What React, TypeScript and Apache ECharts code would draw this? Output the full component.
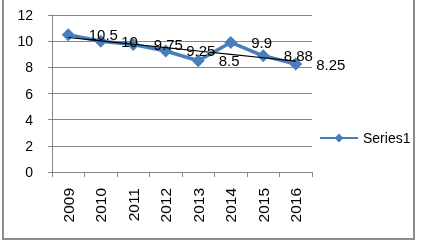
import React, { useEffect, useRef } from "react";
import * as echarts from "echarts";

const categories = ["2009", "2010", "2011", "2012", "2013", "2014", "2015", "2016"];
const series1 = [10.5, 10, 9.75, 9.25, 8.5, 9.9, 8.88, 8.25];
const seriesName = "Series1";

function linearTrend(values: number[]): number[] {
  const n = values.length;
  const xs = values.map((_, i) => i + 1);
  const mx = xs.reduce((a, b) => a + b, 0) / n;
  const my = values.reduce((a, b) => a + b, 0) / n;
  let sxy = 0;
  let sxx = 0;
  for (let i = 0; i < n; i++) {
    sxy += (xs[i] - mx) * (values[i] - my);
    sxx += (xs[i] - mx) * (xs[i] - mx);
  }
  const slope = sxy / sxx;
  return xs.map((x) => my + slope * (x - mx));
}

export default function App() {
  const ref = useRef<HTMLDivElement>(null);
  useEffect(() => {
    if (!ref.current) return;
    const chart = echarts.init(ref.current, undefined, { renderer: "svg" });
    const font = "'Liberation Sans', Arial, sans-serif";
    chart.setOption({
      animation: false,
      textStyle: { fontFamily: font },
      graphic: [
        { type: "rect", z: 100, silent: true, shape: { x: 3, y: -5, width: 411, height: 244 }, style: { fill: "none", stroke: "#8c8c8c", lineWidth: 2 } },
      ],
      grid: { left: 52, right: 110, top: 15, bottom: 68 },
      legend: {
        left: 314,
        top: 126,
        itemWidth: 38,
        itemHeight: 11,
        itemGap: 4,
        data: [{ name: seriesName }],
        textStyle: { fontSize: 14, color: "#000", fontFamily: font },
      },
      xAxis: {
        type: "category",
        data: categories,
        boundaryGap: true,
        axisLine: { show: true, lineStyle: { color: "#868686", width: 1 } },
        axisTick: { show: true, alignWithLabel: false, length: 5, lineStyle: { color: "#868686" } },
        axisLabel: { rotate: 90, fontSize: 15.5, color: "#000", margin: 16, fontFamily: font },
      },
      yAxis: {
        type: "value",
        min: 0,
        max: 12,
        interval: 2,
        axisLine: { show: true, lineStyle: { color: "#868686", width: 1 } },
        axisTick: { show: true, length: 4, inside: false, lineStyle: { color: "#868686" } },
        axisLabel: { fontSize: 14, color: "#000", margin: 19, fontFamily: font },
        splitLine: { show: true, lineStyle: { color: "#868686", width: 1 } },
      },
      series: [
        {
          name: seriesName,
          type: "line",
          data: series1,
          symbol: "diamond",
          symbolSize: 13,
          lineStyle: { color: "#4a7ebb", width: 3.5 },
          itemStyle: { color: "#4a7ebb" },
          label: {
            show: true,
            position: "right",
            distance: 14,
            fontSize: 15,
            color: "#000",
            fontFamily: font,
          },
          z: 2,
        },
        {
          name: "trend",
          type: "line",
          data: linearTrend(series1),
          symbol: "none",
          lineStyle: { color: "#000", width: 1.2 },
          z: 3,
          silent: true,
        },
      ],
    });
    return () => chart.dispose();
  }, []);
  return (
    <div style={{ position: "fixed", left: 0, top: 0, width: 422, height: 240 }}>
      <div ref={ref} style={{ width: 422, height: 240 }} />
    </div>
  );
}
